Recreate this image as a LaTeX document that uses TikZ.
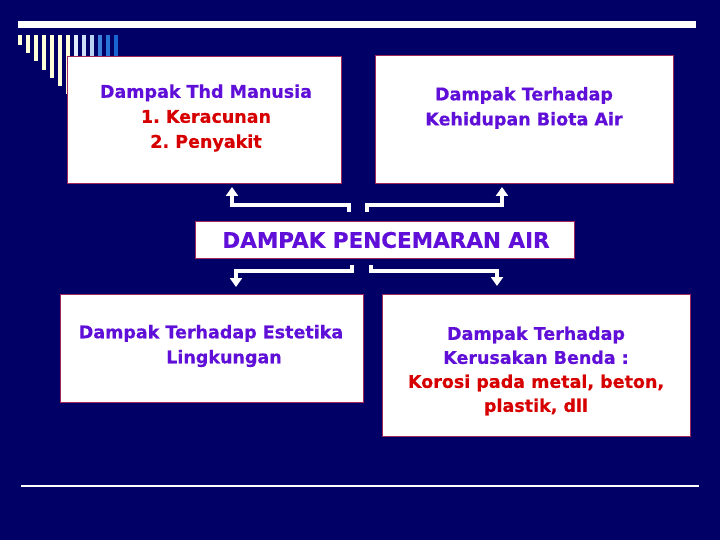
\documentclass[tikz,border=0pt]{standalone}
\usepackage{fontspec}
\setmainfont{DejaVu Sans}[BoldFeatures={FakeBold=0.4}]
\usetikzlibrary{arrows.meta}
\definecolor{navy}{RGB}{0,0,102}
\definecolor{txtpurple}{RGB}{95,15,215}
\definecolor{txtred}{RGB}{215,0,0}
\definecolor{boxedge}{RGB}{160,40,90}
\definecolor{cream}{RGB}{255,255,215}
\definecolor{lb1}{RGB}{225,235,250}
\definecolor{lb2}{RGB}{205,222,246}
\definecolor{lb3}{RGB}{185,210,242}
\definecolor{db1}{RGB}{60,130,220}
\definecolor{db2}{RGB}{40,115,215}
\definecolor{db3}{RGB}{25,100,210}
\frenchspacing
\begin{document}
\begin{tikzpicture}[x=1pt,y=-1pt,
  box/.style={draw=boxedge, line width=1.2pt, fill=white, inner sep=0pt, anchor=north west},
  lbl/.style={font=\bfseries\fontsize{17.5}{25}\selectfont, text=txtpurple, align=center, inner sep=0pt},
  conn/.style={draw=white, line width=4pt, -{Triangle[length=9pt,width=12pt]}}]
\useasboundingbox (0,0) rectangle (720,540);
\fill[navy] (0,0) rectangle (720,540);
% top and bottom rules
\fill[white] (18,21) rectangle (696,28);
\fill[white] (21,484.5) rectangle (699,487);
% decorative bars
\foreach \i/\c in {0/cream,1/cream,2/cream,3/cream,4/cream,5/cream,6/cream,7/lb1,8/lb2,9/lb3,10/db1,11/db2,12/db3}{
  \fill[\c] ({18+8*\i},35) rectangle ({21.8+8*\i},{45+8.2*\i});
}
% boxes
\node[box, minimum width=274pt, minimum height=127pt] (b1) at (67,56) {};
\node[box, minimum width=298pt, minimum height=128pt] (b2) at (375,55) {};
\node[box, minimum width=379pt, minimum height=37pt] (bc) at (195,221) {};
\node[box, minimum width=303pt, minimum height=108pt] (b3) at (60,294) {};
\node[box, minimum width=308pt, minimum height=142pt] (b4) at (382,294) {};
% texts
\node[lbl] (t1) at (206,118) {Dampak Thd Manusia\\{\color{txtred}1. Keracunan}\\{\color{txtred}2. Penyakit}};
\node[lbl] (t2) at (524,108) {Dampak Terhadap\\Kehidupan Biota Air};
\node[lbl, font=\bfseries\fontsize{21.5}{25}\selectfont] (tc) at (386,240) {DAMPAK PENCEMARAN AIR};
\node[lbl] (t3) at (211,346) {Dampak Terhadap Estetika\\\hspace*{26pt}Lingkungan};
\node[lbl, font=\bfseries\fontsize{17.5}{24}\selectfont] (t4) at (536,371) {Dampak Terhadap\\Kerusakan Benda :\\{\color{txtred}Korosi pada metal, beton,}\\{\color{txtred}plastik, dll}};
% connectors
\coordinate (s1) at (349,212);
\coordinate (e1) at (232,187);
\coordinate (s2) at (367,212);
\coordinate (e2) at (502,187);
\coordinate (s3) at (352,265);
\coordinate (e3) at (236,287);
\coordinate (s4) at (371,265);
\coordinate (e4) at (497,286);
\draw[conn] (s1) -- (s1 |- 0,205) -- (e1 |- 0,205) -- (e1);
\draw[conn] (s2) -- (s2 |- 0,205) -- (e2 |- 0,205) -- (e2);
\draw[conn] (s3) -- (s3 |- 0,271) -- (e3 |- 0,271) -- (e3);
\draw[conn] (s4) -- (s4 |- 0,271) -- (e4 |- 0,271) -- (e4);
\end{tikzpicture}
\end{document}
